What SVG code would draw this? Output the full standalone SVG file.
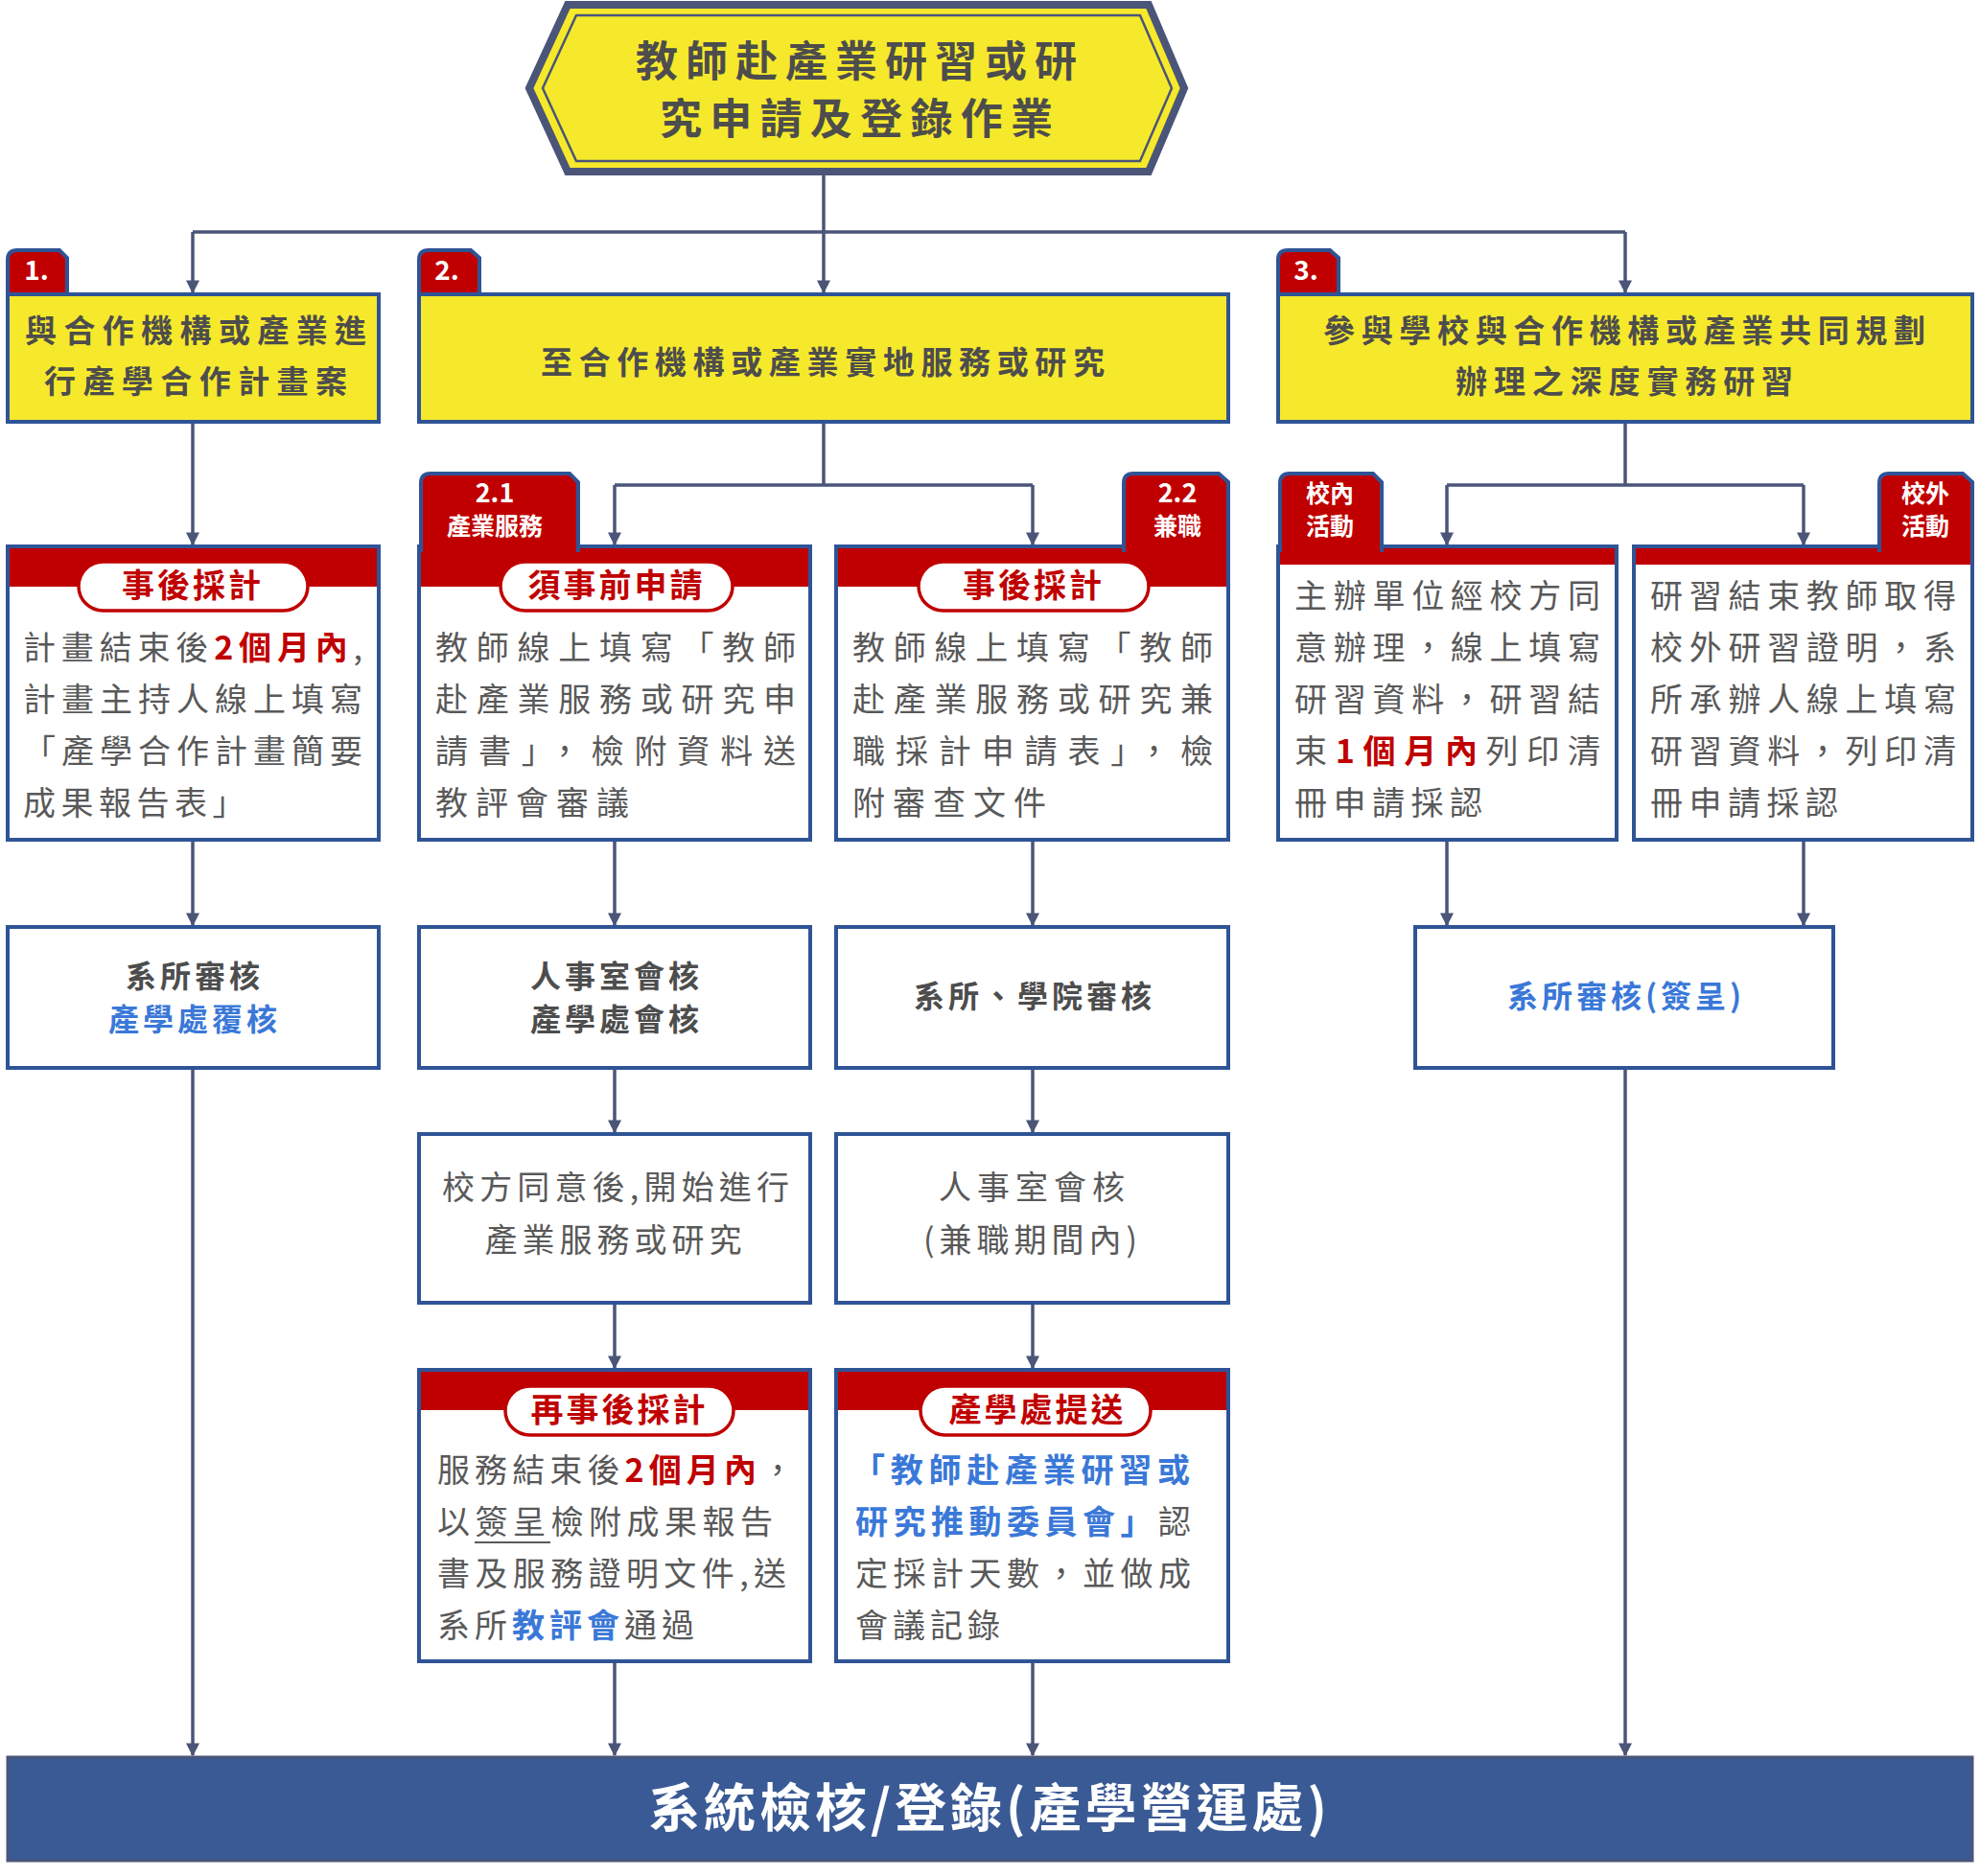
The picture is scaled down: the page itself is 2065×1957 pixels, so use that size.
<svg xmlns="http://www.w3.org/2000/svg" width="2065" height="1957" viewBox="0 0 2065 1957">
<style>
text{font-family:"Noto Sans CJK TC","Noto Sans CJK SC",sans-serif}
.box{fill:#fff;stroke:#2f5496;stroke-width:4}
.ybox{fill:#f6e92b;stroke:#2f5496;stroke-width:4}
.tab{fill:#c00000;stroke:#2f5496;stroke-width:4}
.red{fill:#c00000}
.pill{fill:#fff;stroke:#c00000;stroke-width:3.5}
.pt{fill:#c00000;font-weight:bold;font-size:34px;text-anchor:middle;letter-spacing:3px}
.tt{fill:#fff;font-weight:bold;font-size:27px;text-anchor:middle}
.yt{fill:#4d4d4d;font-weight:bold;font-size:33px;text-anchor:middle}
.bt{fill:#595959;font-size:34px}
.hb{font-weight:bold;fill:#c00000}
.bl{font-weight:bold;fill:#3a78d8}
.ct{fill:#4d4d4d;font-weight:bold;font-size:32px;text-anchor:middle;letter-spacing:4px}
.cb{fill:#3a78d8;font-weight:bold;font-size:32px;text-anchor:middle;letter-spacing:4px}
.conn{fill:none;stroke:#4a5578;stroke-width:3.5}
</style>
<defs>
<marker id="ar" viewBox="0 0 10 10" refX="9" refY="5" markerWidth="4" markerHeight="5" orient="auto" markerUnits="strokeWidth"><path d="M0,0L10,5L0,10z" fill="#4a5578"/></marker>
</defs>

<g id="connectors">
<path class="conn" d="M859,180V242"/>
<path class="conn" d="M201,242H1695"/>
<path class="conn" d="M201,242V305" marker-end="url(#ar)"/>
<path class="conn" d="M859,242V305" marker-end="url(#ar)"/>
<path class="conn" d="M1695,242V305" marker-end="url(#ar)"/>
<path class="conn" d="M201,440V568" marker-end="url(#ar)"/>
<path class="conn" d="M859,440V506M641,506H1077"/>
<path class="conn" d="M641,506V568" marker-end="url(#ar)"/>
<path class="conn" d="M1077,506V568" marker-end="url(#ar)"/>
<path class="conn" d="M1695,440V506M1509,506H1881"/>
<path class="conn" d="M1509,506V568" marker-end="url(#ar)"/>
<path class="conn" d="M1881,506V568" marker-end="url(#ar)"/>
<path class="conn" d="M201,876V965" marker-end="url(#ar)"/>
<path class="conn" d="M641,876V965" marker-end="url(#ar)"/>
<path class="conn" d="M1077,876V965" marker-end="url(#ar)"/>
<path class="conn" d="M1509,876V965" marker-end="url(#ar)"/>
<path class="conn" d="M1881,876V965" marker-end="url(#ar)"/>
<path class="conn" d="M641,1114V1181" marker-end="url(#ar)"/>
<path class="conn" d="M1077,1114V1181" marker-end="url(#ar)"/>
<path class="conn" d="M641,1359V1427" marker-end="url(#ar)"/>
<path class="conn" d="M1077,1359V1427" marker-end="url(#ar)"/>
<path class="conn" d="M201,1114V1831" marker-end="url(#ar)"/>
<path class="conn" d="M641,1733V1831" marker-end="url(#ar)"/>
<path class="conn" d="M1077,1733V1831" marker-end="url(#ar)"/>
<path class="conn" d="M1695,1114V1831" marker-end="url(#ar)"/>
</g>

<g id="title">
<path d="M552,92L592,5H1198L1235,92L1198,179H592Z" fill="#f6e92b" stroke="#4a5578" stroke-width="8"/>
<path d="M566,92L601,16H1189L1222,92L1189,168H601Z" fill="none" stroke="#4a5578" stroke-width="2.5"/>
<text class="yt" x="893" y="80" style="font-size:44px" textLength="460">教師赴產業研習或研</text>
<text class="yt" x="893" y="140" style="font-size:44px" textLength="410">究申請及登錄作業</text>
</g>

<g id="n1">
<path class="tab" d="M8,310V271Q8,261 18,261H62L70,269V310Z"/>
<rect class="ybox" x="8" y="307" width="387" height="133"/>
<text class="tt" x="38" y="292" style="font-size:28px">1.</text>
<text class="yt" x="204" y="357" textLength="356" lengthAdjust="spacing">與合作機構或產業進</text>
<text class="yt" x="204" y="410" textLength="316" lengthAdjust="spacing">行產學合作計畫案</text>
</g>
<g id="n2">
<path class="tab" d="M437,310V271Q437,261 447,261H491L500,269V310Z"/>
<rect class="ybox" x="437" y="307" width="844" height="133"/>
<text class="tt" x="466" y="292" style="font-size:28px">2.</text>
<text class="yt" x="858" y="390" textLength="588" lengthAdjust="spacing">至合作機構或產業實地服務或研究</text>
</g>
<g id="n3">
<path class="tab" d="M1333,310V271Q1333,261 1343,261H1387L1396,269V310Z"/>
<rect class="ybox" x="1333" y="307" width="724" height="133"/>
<text class="tt" x="1362" y="292" style="font-size:28px">3.</text>
<text class="yt" x="1694" y="357" textLength="628" lengthAdjust="spacing">參與學校與合作機構或產業共同規劃</text>
<text class="yt" x="1694" y="410" textLength="352" lengthAdjust="spacing">辦理之深度實務研習</text>
</g>

<g id="a1">
<rect class="box" x="8" y="570" width="387" height="306"/>
<rect class="red" x="10" y="572" width="383" height="40"/>
<rect class="pill" x="82" y="586" width="239" height="51" rx="25.5"/>
<text class="pt" x="201" y="623">事後採計</text>
<text class="bt" x="24" y="688" textLength="354" lengthAdjust="spacing">計畫結束後<tspan class="hb">2個月內</tspan>,</text>
<text class="bt" x="24" y="742" textLength="354" lengthAdjust="spacing">計畫主持人線上填寫</text>
<text class="bt" x="24" y="796" textLength="354" lengthAdjust="spacing">「產學合作計畫簡要</text>
<text class="bt" x="24" y="850" style="letter-spacing:5.5px">成果報告表」</text>
</g>

<g id="a2">
<rect class="box" x="437" y="570" width="408" height="306"/>
<rect class="red" x="439" y="572" width="404" height="40"/>
<path class="tab" d="M439,574V504Q439,494 449,494H594L603,503V574Z"/>
<rect class="red" x="441" y="568" width="160" height="10"/>
<rect class="pill" x="522" y="586" width="242" height="51" rx="25.5"/>
<text class="pt" x="643" y="623">須事前申請</text>
<text class="tt" x="516" y="524">2.1</text>
<text class="tt" x="516" y="558" style="font-size:25px">產業服務</text>
<text class="bt" x="454" y="688" textLength="376" lengthAdjust="spacing">教師線上填寫「教師</text>
<text class="bt" x="454" y="742" textLength="376" lengthAdjust="spacing">赴產業服務或研究申</text>
<text class="bt" x="454" y="796" textLength="376" lengthAdjust="spacing">請書」，檢附資料送</text>
<text class="bt" x="454" y="850" style="letter-spacing:8px">教評會審議</text>
</g>

<g id="a3">
<rect class="box" x="872" y="570" width="409" height="306"/>
<rect class="red" x="874" y="572" width="405" height="40"/>
<path class="tab" d="M1172,574V504Q1172,494 1182,494H1271L1281,503V574Z"/>
<rect class="red" x="1174" y="568" width="105" height="10"/>
<rect class="pill" x="958" y="586" width="240" height="51" rx="25.5"/>
<text class="pt" x="1078" y="623">事後採計</text>
<text class="tt" x="1228" y="524">2.2</text>
<text class="tt" x="1228" y="558" style="font-size:25px">兼職</text>
<text class="bt" x="889" y="688" textLength="376" lengthAdjust="spacing">教師線上填寫「教師</text>
<text class="bt" x="889" y="742" textLength="376" lengthAdjust="spacing">赴產業服務或研究兼</text>
<text class="bt" x="889" y="796" textLength="376" lengthAdjust="spacing">職採計申請表」，檢</text>
<text class="bt" x="889" y="850" style="letter-spacing:8px">附審查文件</text>
</g>

<g id="a4">
<rect class="box" x="1333" y="570" width="353" height="306"/>
<rect class="red" x="1335" y="572" width="349" height="17"/>
<path class="tab" d="M1335,574V504Q1335,494 1345,494H1432L1441,503V574Z"/>
<rect class="red" x="1337" y="568" width="102" height="10"/>
<text class="tt" x="1387" y="524" style="font-size:25px">校內</text>
<text class="tt" x="1387" y="558" style="font-size:25px">活動</text>
<text class="bt" x="1350" y="634" textLength="319" lengthAdjust="spacing">主辦單位經校方同</text>
<text class="bt" x="1350" y="688" textLength="319" lengthAdjust="spacing">意辦理，線上填寫</text>
<text class="bt" x="1350" y="742" textLength="319" lengthAdjust="spacing">研習資料，研習結</text>
<text class="bt" x="1350" y="796" textLength="319" lengthAdjust="spacing">束<tspan class="hb">1個月內</tspan>列印清</text>
<text class="bt" x="1350" y="850" style="letter-spacing:6.5px">冊申請採認</text>
</g>

<g id="a5">
<rect class="box" x="1704" y="570" width="353" height="306"/>
<rect class="red" x="1706" y="572" width="349" height="17"/>
<path class="tab" d="M1960,574V504Q1960,494 1970,494H2047L2057,503V574Z"/>
<rect class="red" x="1962" y="568" width="93" height="10"/>
<text class="tt" x="2008" y="524" style="font-size:25px">校外</text>
<text class="tt" x="2008" y="558" style="font-size:25px">活動</text>
<text class="bt" x="1721" y="634" textLength="319" lengthAdjust="spacing">研習結束教師取得</text>
<text class="bt" x="1721" y="688" textLength="319" lengthAdjust="spacing">校外研習證明，系</text>
<text class="bt" x="1721" y="742" textLength="319" lengthAdjust="spacing">所承辦人線上填寫</text>
<text class="bt" x="1721" y="796" textLength="319" lengthAdjust="spacing">研習資料，列印清</text>
<text class="bt" x="1721" y="850" style="letter-spacing:6.5px">冊申請採認</text>
</g>

<g id="b1">
<rect class="box" x="8" y="967" width="387" height="147"/>
<text class="ct" x="203" y="1030">系所審核</text>
<text class="cb" x="203" y="1075">產學處覆核</text>
</g>
<g id="b2">
<rect class="box" x="437" y="967" width="408" height="147"/>
<text class="ct" x="643" y="1030">人事室會核</text>
<text class="ct" x="643" y="1075">產學處會核</text>
</g>
<g id="b3">
<rect class="box" x="872" y="967" width="409" height="147"/>
<text class="ct" x="1079" y="1051">系所、學院審核</text>
</g>
<g id="b4">
<rect class="box" x="1476" y="967" width="436" height="147"/>
<text class="cb" x="1696" y="1051">系所審核(簽呈)</text>
</g>

<g id="c1">
<rect class="box" x="437" y="1183" width="408" height="176"/>
<text class="bt" x="642" y="1251" text-anchor="middle" textLength="362" lengthAdjust="spacing">校方同意後,開始進行</text>
<text class="bt" x="642" y="1306" text-anchor="middle" style="letter-spacing:5px">產業服務或研究</text>
</g>
<g id="c2">
<rect class="box" x="872" y="1183" width="409" height="176"/>
<text class="bt" x="1079" y="1251" text-anchor="middle" style="letter-spacing:6px">人事室會核</text>
<text class="bt" x="1077" y="1306" text-anchor="middle" style="letter-spacing:5px">(兼職期間內)</text>
</g>

<g id="d1">
<rect class="box" x="437" y="1429" width="408" height="304"/>
<rect class="red" x="439" y="1431" width="404" height="40"/>
<rect class="pill" x="527" y="1446" width="238" height="51" rx="25.5"/>
<text class="pt" x="646" y="1483">再事後採計</text>
<text class="bt" x="456" y="1546" textLength="372" lengthAdjust="spacing">服務結束後<tspan class="hb">2個月內</tspan>，</text>
<text class="bt" x="456" y="1600" textLength="350" lengthAdjust="spacing">以簽呈檢附成果報告</text>
<path d="M495,1609H574" stroke="#595959" stroke-width="2"/>
<text class="bt" x="456" y="1654" textLength="364" lengthAdjust="spacing">書及服務證明文件,送</text>
<text class="bt" x="456" y="1708" style="letter-spacing:5px">系所<tspan class="bl">教評會</tspan>通過</text>
</g>
<g id="d2">
<rect class="box" x="872" y="1429" width="409" height="304"/>
<rect class="red" x="874" y="1431" width="405" height="40"/>
<rect class="pill" x="960" y="1446" width="240" height="51" rx="25.5"/>
<text class="pt" x="1082" y="1483">產學處提送</text>
<text class="bt bl" x="889" y="1546" textLength="352" lengthAdjust="spacing">「教師赴產業研習或</text>
<text class="bt" x="892" y="1600" textLength="350" lengthAdjust="spacing"><tspan class="bl">研究推動委員會」</tspan>認</text>
<text class="bt" x="892" y="1654" textLength="350" lengthAdjust="spacing">定採計天數，並做成</text>
<text class="bt" x="892" y="1708" style="letter-spacing:5px">會議記錄</text>
</g>

<g id="bottom">
<rect x="8" y="1833" width="2049" height="108" fill="#3a5a95" stroke="#4a5578" stroke-width="3"/>
<text x="1032" y="1906" fill="#fff" font-weight="bold" font-size="54" text-anchor="middle" style="letter-spacing:4px">系統檢核/登錄(產學營運處)</text>
</g>
</svg>
